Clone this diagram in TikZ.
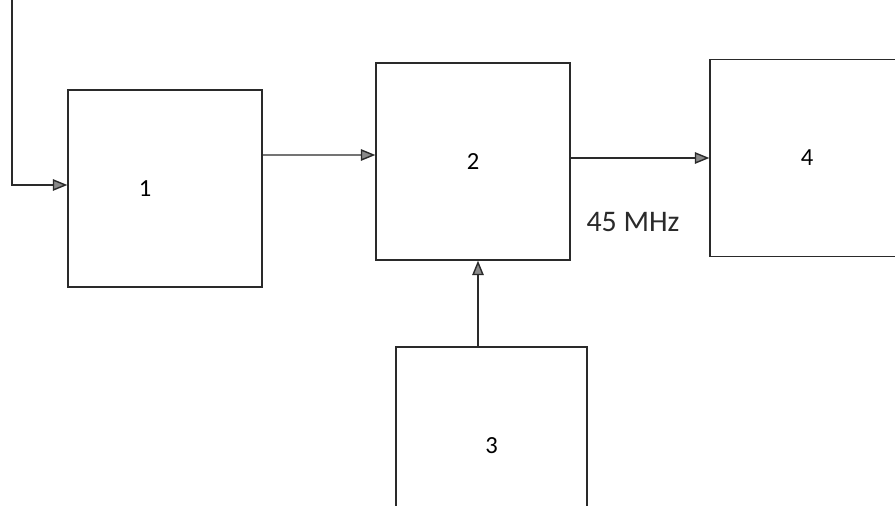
\documentclass[tikz,border=0pt]{standalone}
\usepackage{fontspec}
\setmainfont{Carlito}
\usepackage{tikz}
\usetikzlibrary{arrows.meta,positioning}
\definecolor{BLine}{HTML}{2A2A2A}
\definecolor{BTip}{HTML}{8A8A8A}

\begin{document}
\begin{tikzpicture}[
  x=0.02cm,y=-0.02cm,
  every node/.style={font=\fontsize{14}{16}\selectfont},
  block/.style={draw=BLine,line width=0.8pt,minimum width=3.88cm,
    minimum height=3.94cm,inner sep=0pt},
  arr/.style={-{Triangle[length=2.9mm,width=2.3mm,fill=BTip]},
    line width=0.8pt,color=BLine}
]
  \clip (0,0) rectangle (895,506);
  \node[block,label={[xshift=-0.4cm]center:1}] (mixin) at (165,188.5) {};
  \node[block] (mixer) at (473,161.5) {2};
  \node[block,minimum width=3.82cm] (osc) at (491.5,445.5) {3};
  \node[block] (ifamp) at (807,158) {4};
  \coordinate (src) at (12,-5);

  \draw[arr] (src) |- ([yshift=0.07cm]mixin.west);
  \draw[arr] ([yshift=0.67cm]mixin.east) -- ([yshift=0.13cm]mixer.west);
  \draw[arr] (mixer.east |- ifamp.west) -- (ifamp.west);
  \draw[arr] ([xshift=0.1cm]mixer.south |- osc.north) -- ([xshift=0.1cm]mixer.south);
  \node[font=\fontsize{17}{19}\selectfont,color=BLine] (freq) at (633,222) {45 MHz};
\end{tikzpicture}
\end{document}
